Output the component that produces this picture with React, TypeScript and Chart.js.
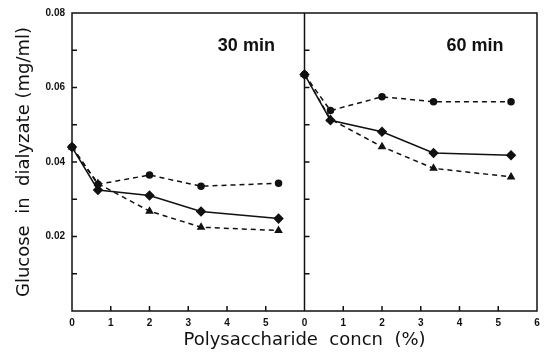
import React, { useEffect, useRef } from "react";
import { Chart, registerables } from "chart.js";
Chart.register(...registerables);

const concn = [0, 0.67, 2, 3.33, 5.33];
const panelNames = ["30 min", "60 min"];
const panelShift = [0, 6];
const panelLabelX = [4.5, 4.4];
const xTickValues = [0, 1, 2, 3, 4, 5, 6, 7, 8, 9, 10, 11, 12];

const circle30 = [0.044, 0.034, 0.0365, 0.0335, 0.0343];
const diamond30 = [0.044, 0.0325, 0.031, 0.0267, 0.0248];
const triangle30 = [0.044, 0.0342, 0.0268, 0.0225, 0.0216];
const circle60 = [0.0635, 0.0538, 0.0575, 0.0562, 0.0562];
const diamond60 = [0.0635, 0.0512, 0.0481, 0.0424, 0.0418];
const triangle60 = [0.0635, 0.0515, 0.0441, 0.0383, 0.036];

const FONT = "'Liberation Sans', Arial, sans-serif";
const TITLE_FONT = "'DejaVu Sans', sans-serif";

function series(vals: number[], shift: number) {
  return vals.map((v, i) => ({ x: concn[i] + shift, y: v }));
}

const framePlugin = {
  id: "frame",
  beforeDatasetsDraw(chart: any) {
    const { ctx, chartArea: a, scales } = chart;
    const xs = scales.x;
    const ys = scales.y;
    ctx.save();
    ctx.strokeStyle = "#111";
    ctx.lineWidth = 1.5;
    ctx.beginPath();
    ctx.rect(a.left, a.top, a.right - a.left, a.bottom - a.top);
    const mid = xs.getPixelForValue(6);
    ctx.moveTo(mid, a.top);
    ctx.lineTo(mid, a.bottom);
    for (let v = 0.01; v < 0.0801; v += 0.01) {
      const py = ys.getPixelForValue(v);
      for (const px of [a.left, mid]) {
        ctx.moveTo(px, py);
        ctx.lineTo(px + 5, py);
      }
    }
    for (const t of xTickValues) {
      if (t === 0 || t === 6 || t === 12) continue;
      const px = xs.getPixelForValue(t);
      ctx.moveTo(px, a.bottom);
      ctx.lineTo(px, a.bottom - 5);
    }
    ctx.stroke();
    ctx.fillStyle = "#111";
    ctx.font = `bold 18px ${FONT}`;
    ctx.textAlign = "center";
    ctx.textBaseline = "middle";
    panelNames.forEach((n, i) => {
      ctx.fillText(n, xs.getPixelForValue(panelLabelX[i] + panelShift[i]), ys.getPixelForValue(0.0712));
    });
    ctx.restore();
  },
};

export default function App() {
  const ref = useRef<HTMLCanvasElement>(null);
  useEffect(() => {
    const lineBase = {
      borderColor: "#111",
      backgroundColor: "#111",
      pointBorderColor: "#111",
      pointBackgroundColor: "#111",
      borderWidth: 1.5,
      showLine: true,
      tension: 0,
      clip: false as any,
    };
    const datasets: any[] = [];
    const groups = [
      [circle30, diamond30, triangle30],
      [circle60, diamond60, triangle60],
    ];
    groups.forEach((g, i) => {
      const s = panelShift[i];
      datasets.push({ ...lineBase, data: series(g[0], s), borderDash: [5, 4], pointStyle: "circle", pointRadius: 3 });
      datasets.push({ ...lineBase, data: series(g[1], s), pointStyle: "rectRot", pointRadius: 4.2 });
      datasets.push({ ...lineBase, data: series(g[2], s), borderDash: [5, 4], pointStyle: "triangle", pointRadius: 3.5 });
    });
    const chart = new Chart(ref.current!, {
      type: "scatter",
      data: { datasets },
      plugins: [framePlugin],
      options: {
        animation: false,
        responsive: false,
        layout: { padding: { top: 10, right: 11, left: 0, bottom: 0 } },
        plugins: { legend: { display: false }, tooltip: { enabled: false } },
        scales: {
          x: {
            type: "linear",
            min: 0,
            max: 12,
            afterBuildTicks: (sc: any) => {
              sc.ticks = xTickValues.map((v) => ({ value: v }));
            },
            afterFit: (sc: any) => {
              sc.height = 48;
            },
            grid: { display: false, drawTicks: false },
            border: { display: false },
            ticks: {
              padding: 6,
              color: "#111",
              font: { family: FONT, size: 10, weight: "bold" },
              maxRotation: 0,
              autoSkip: false,
              callback: (v: any) => String(v < 6 ? v : v - 6),
            },
            title: {
              display: true,
              text: "Polysaccharide  concn  (%)",
              color: "#111",
              font: { family: TITLE_FONT, size: 18 },
              padding: { top: 0, bottom: 8 },
            },
          },
          y: {
            min: 0,
            max: 0.08,
            afterBuildTicks: (sc: any) => {
              sc.ticks = [0, 0.02, 0.04, 0.06, 0.08].map((v) => ({ value: v }));
            },
            afterFit: (sc: any) => {
              sc.width = 72;
            },
            grid: { display: false, drawTicks: false },
            border: { display: false },
            ticks: {
              padding: 7,
              color: "#111",
              font: { family: FONT, size: 10, weight: "bold" },
              callback: (v: any) => (v === 0 ? "" : Number(v).toFixed(2)),
            },
            title: {
              display: true,
              text: "Glucose  in  dialyzate (mg/ml)",
              color: "#111",
              font: { family: TITLE_FONT, size: 18 },
              padding: { top: 14, bottom: 0 },
            },
          },
        },
      },
    } as any);
    return () => chart.destroy();
  }, []);
  return (
    <div style={{ position: "fixed", left: 0, top: 0, width: 548, height: 359, background: "#fff" }}>
      <canvas ref={ref} width={548} height={359} />
    </div>
  );
}
